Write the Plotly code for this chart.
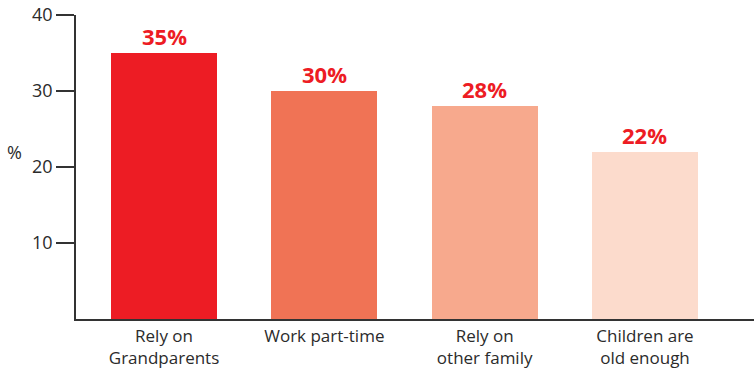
import plotly.graph_objects as go

# Categories and values (percent)
categories = ["Rely on<br>Grandparents", "Work part-time", "Rely on<br>other family", "Children are<br>old enough"]
values = [35, 30, 28, 22]
bar_colors = ["#ED1C24", "#F07355", "#F7A98D", "#FCDBCC"]
y_ticks = [10, 20, 30, 40]

FONT = "Open Sans, Liberation Sans, sans-serif"
TEXT = "#2b2b2b"

fig = go.Figure(
    go.Bar(
        x=list(range(len(categories))),
        y=values,
        width=0.66,
        marker=dict(color=bar_colors, line=dict(width=0)),
        hoverinfo="skip",
    )
)

# Value labels above each bar
for i, v in enumerate(values):
    fig.add_annotation(
        x=i, y=v,
        xref="x", yref="y",
        text=f"<b>{v}%</b>",
        showarrow=False,
        xanchor="center", yanchor="bottom",
        yshift=0,
        font=dict(family=FONT, size=22, color="#ED1C24"),
    )

fig.update_layout(
    width=754,
    height=371,
    margin=dict(l=76, r=0, t=15, b=52),
    paper_bgcolor="white",
    plot_bgcolor="white",
    showlegend=False,
    font=dict(family=FONT, color=TEXT, size=18),
    bargap=0,
)

fig.update_xaxes(
    range=[-0.549, 3.68],
    tickmode="array",
    tickvals=list(range(len(categories))),
    ticktext=categories,
    showline=True,
    linecolor="#333333",
    linewidth=1.5,
    ticks="",
    showgrid=False,
    zeroline=False,
    automargin=False,
    ticklabelstandoff=1,
    tickfont=dict(family=FONT, size=17, color=TEXT),
)

fig.update_yaxes(
    range=[0, 40],
    tickmode="array",
    tickvals=y_ticks,
    ticktext=[str(t) for t in y_ticks],
    showline=True,
    linecolor="#333333",
    linewidth=1.5,
    ticks="outside",
    ticklen=18,
    tickwidth=1.5,
    tickcolor="#333333",
    showgrid=False,
    zeroline=False,
    automargin=False,
    tickfont=dict(family=FONT, size=18, color=TEXT),
)

fig.add_annotation(
    text="%",
    xref="paper", yref="paper",
    x=-0.09, y=0.549,
    xanchor="center", yanchor="middle",
    showarrow=False,
    font=dict(family=FONT, size=18, color=TEXT),
)

fig.write_html("out.html")
